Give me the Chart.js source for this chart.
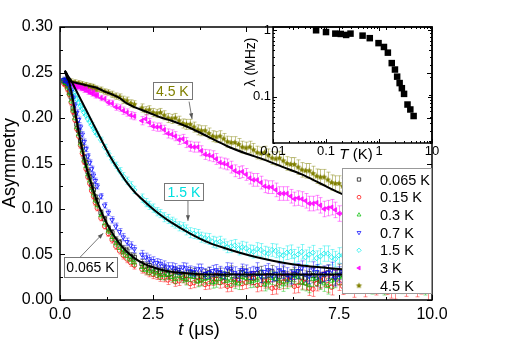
<!DOCTYPE html>
<html>
<head>
<meta charset="utf-8">
<script src="https://cdn.jsdelivr.net/npm/chart.js@4.4.0/dist/chart.umd.min.js"></script>
<style>
html, body { margin: 0; padding: 0; background: #fff; }
#wrap { position: relative; width: 509px; height: 345px; }
#main { position: absolute; left: 0; top: 0; }
#inset { position: absolute; left: 240px; top: 0; }
</style>
</head>
<body>
<div id="wrap">
<canvas id="main" width="509" height="345"></canvas>
<canvas id="inset" width="220" height="170"></canvas>
</div>
<script>
// time bins (μs), shared by all temperatures
const times = [0.10,0.15,0.20,0.25,0.30,0.35,0.40,0.45,0.50,0.55,0.60,0.65,0.70,0.75,0.80,0.85,0.90,0.95,1.00,
    1.1,1.2,1.3,1.4,1.5,1.6,1.7,1.8,1.9,2.0,
    2.2,2.3,2.4,2.5,2.6,2.7,2.8,2.9,3.0,3.1,3.2,3.3,3.4,3.5,3.6,3.7,3.8,3.9,4.0,4.1,4.2,4.3,4.4,4.5,4.6,4.7,4.8,4.9,5.0,5.1,
    5.2,5.3,5.4,5.5,5.6,5.7,5.8,5.9,6.0,6.1,6.2,6.3,6.4,6.5,6.6,6.7,6.8,6.9,7.0,7.1,7.2,7.3,7.4,7.5,7.6,7.7,7.8,7.9,8.0,8.1,
    8.2,8.3,8.4,8.5,8.6,8.7,8.8,8.9,9.0,9.1,9.2,9.3,9.4,9.5,9.6,9.7,9.8,9.9];

// asymmetry for each temperature
const a065 = [0.241,0.239,0.237,0.229,0.223,0.211,0.204,0.193,0.186,0.175,0.168,0.157,0.151,0.141,0.135,0.126,0.121,0.113,0.109,
    0.096,0.089,0.079,0.074,0.066,0.063,0.056,0.054,0.048,0.047,
    0.040,0.037,0.038,0.034,0.033,0.031,0.033,0.028,0.029,0.031,0.030,0.026,0.027,0.030,0.029,0.025,0.026,0.028,0.030,0.024,
    0.027,0.029,0.025,0.028,0.031,0.023,0.026,0.030,0.028,0.025,0.024,0.029,0.030,0.022,0.027,0.031,0.023,0.026,0.029,0.024,
    0.026,0.028,0.031,0.025,0.024,0.029,0.027,0.023,0.022,0.028,0.030,0.025,0.026,0.031,0.028,0.024,0.021,0.027,0.029,0.023,
    0.025,0.030,0.031,0.026,0.023,0.028,0.027,0.022,0.024,0.029,0.030,0.025,0.022,0.028,0.028,0.024,0.025,0.029];
const a015 = [0.238,0.236,0.232,0.226,0.217,0.207,0.198,0.188,0.180,0.170,0.161,0.152,0.144,0.135,0.128,0.120,0.114,0.107,0.101,
    0.090,0.081,0.073,0.066,0.059,0.054,0.049,0.045,0.041,0.038,
    0.034,0.032,0.030,0.028,0.027,0.025,0.025,0.022,0.024,0.020,0.021,0.024,0.023,0.018,0.019,0.021,0.022,0.017,0.018,0.022,
    0.023,0.019,0.020,0.015,0.016,0.021,0.022,0.018,0.019,0.023,0.024,0.016,0.017,0.020,0.021,0.013,0.014,0.019,0.020,0.022,
    0.023,0.015,0.016,0.020,0.019,0.013,0.012,0.018,0.021,0.023,0.017,0.014,0.024,0.019,0.015,0.021,0.019,0.012,0.022,0.017,
    0.013,0.020,0.018,0.015,0.021,0.022,0.016,0.012,0.011,0.018,0.019,0.014,0.023,0.020,0.014,0.017,0.018,0.010];
const a03 = [0.240,0.238,0.234,0.227,0.219,0.209,0.200,0.190,0.182,0.172,0.164,0.154,0.147,0.138,0.131,0.123,0.117,0.110,0.104,
    0.093,0.084,0.076,0.069,0.062,0.057,0.052,0.048,0.044,0.041,
    0.036,0.033,0.032,0.031,0.029,0.027,0.027,0.028,0.025,0.023,0.026,0.024,0.022,0.026,0.025,0.020,0.021,0.023,0.024,0.019,
    0.020,0.023,0.025,0.021,0.022,0.019,0.018,0.025,0.024,0.020,0.021,0.022,0.026,0.017,0.019,0.024,0.023,0.021,0.017,0.020,
    0.022,0.026,0.025,0.019,0.018,0.016,0.023,0.024,0.020,0.018,0.015,0.021,0.022,0.025,0.026,0.017,0.018,0.020,0.021,0.023,
    0.024,0.019,0.016,0.022,0.022,0.015,0.019,0.024,0.025,0.020,0.017,0.018,0.021,0.023,0.024,0.019,0.016,0.021];
const a07 = [0.242,0.241,0.239,0.235,0.229,0.222,0.214,0.206,0.198,0.190,0.182,0.174,0.166,0.158,0.151,0.144,0.137,0.131,0.125,
    0.114,0.104,0.096,0.088,0.081,0.075,0.069,0.064,0.060,0.056,
    0.050,0.047,0.045,0.043,0.041,0.040,0.038,0.036,0.036,0.035,0.033,0.036,0.035,0.032,0.031,0.034,0.034,0.029,0.030,0.032,
    0.033,0.031,0.029,0.035,0.034,0.030,0.028,0.033,0.032,0.029,0.030,0.034,0.026,0.031,0.033,0.027,0.029,0.033,0.031,0.028,
    0.025,0.030,0.032,0.035,0.028,0.026,0.034,0.031,0.027,0.029,0.030,0.033,0.024,0.028,0.031,0.026,0.028,0.032,0.033,0.029,
    0.026,0.024,0.030,0.033,0.027,0.029,0.032,0.028,0.025,0.031,0.029,0.034,0.031,0.027,0.026,0.030,0.030,0.028];
const a15 = [0.241,0.239,0.237,0.234,0.231,0.228,0.224,0.221,0.217,0.213,0.210,0.206,0.203,0.199,0.196,0.192,0.189,0.185,0.182,
    0.176,0.168,0.161,0.154,0.148,0.142,0.136,0.131,0.126,0.121,
    0.112,0.107,0.104,0.101,0.097,0.095,0.091,0.089,0.086,0.084,0.081,0.080,0.077,0.074,0.073,0.072,0.069,0.068,0.067,0.064,
    0.063,0.064,0.061,0.058,0.059,0.060,0.056,0.058,0.057,0.054,0.053,0.056,0.055,0.052,0.051,0.055,0.054,0.050,0.049,0.052,
    0.053,0.048,0.050,0.053,0.047,0.050,0.052,0.046,0.048,0.051,0.051,0.047,0.045,0.049,0.049,0.044,0.046,0.048,0.050,0.045,
    0.044,0.048,0.047,0.042,0.043,0.046,0.046,0.043,0.041,0.044,0.045,0.041,0.040,0.044,0.043,0.038,0.039,0.042];
const a3 = [0.239,0.238,0.239,0.236,0.237,0.235,0.236,0.234,0.235,0.233,0.233,0.231,0.232,0.229,0.229,0.227,0.228,0.225,0.225,
    0.222,0.221,0.217,0.216,0.212,0.211,0.208,0.206,0.203,0.202,
    0.197,0.199,0.195,0.191,0.190,0.190,0.187,0.183,0.182,0.180,0.176,0.177,0.173,0.169,0.168,0.168,0.164,0.160,0.159,0.158,
    0.155,0.151,0.150,0.149,0.146,0.142,0.140,0.141,0.138,0.134,0.132,0.132,0.129,0.125,0.124,0.124,0.121,0.117,0.117,0.117,
    0.114,0.111,0.112,0.111,0.109,0.106,0.106,0.107,0.104,0.100,0.101,0.102,0.099,0.095,0.095,0.096,0.094,0.090,0.089,0.091,
    0.088,0.084,0.083,0.085,0.082,0.078,0.078,0.080,0.077,0.073,0.072,0.074,0.071,0.067,0.066,0.068,0.065,0.062];
const a45 = [0.241,0.240,0.241,0.239,0.240,0.238,0.239,0.237,0.238,0.236,0.237,0.235,0.236,0.234,0.235,0.233,0.234,0.232,0.232,
    0.231,0.229,0.228,0.226,0.224,0.223,0.220,0.219,0.216,0.215,
    0.211,0.208,0.209,0.206,0.205,0.206,0.203,0.200,0.199,0.200,0.197,0.194,0.193,0.193,0.190,0.187,0.186,0.186,0.183,0.180,
    0.179,0.180,0.177,0.174,0.173,0.173,0.171,0.168,0.167,0.168,0.165,0.162,0.161,0.162,0.159,0.156,0.155,0.156,0.153,0.150,
    0.149,0.149,0.146,0.143,0.142,0.142,0.139,0.136,0.135,0.135,0.132,0.129,0.128,0.128,0.125,0.122,0.121,0.121,0.119,0.115,
    0.114,0.114,0.112,0.108,0.107,0.107,0.105,0.101,0.100,0.100,0.097,0.094,0.093,0.093,0.090,0.087,0.086,0.084];

// error bar half-heights per time bin
const errors = [0.003,0.003,0.003,0.003,0.003,0.003,0.003,0.003,0.003,0.003,0.003,0.003,0.003,0.003,0.003,0.003,0.003,0.003,0.003,
    0.003,0.003,0.003,0.0035,0.0035,0.0035,0.004,0.004,0.004,0.004,
    0.0045,0.0045,0.0045,0.0045,0.0045,0.0045,0.005,0.005,0.005,0.005,0.005,0.005,0.0055,0.0055,0.0055,0.0055,0.0055,0.0055,0.006,0.006,
    0.006,0.006,0.006,0.006,0.0065,0.0065,0.0065,0.0065,0.0065,0.0065,0.007,0.007,0.007,0.007,0.007,0.007,0.0075,0.0075,0.0075,0.0075,
    0.0075,0.0075,0.008,0.008,0.008,0.008,0.008,0.008,0.0085,0.0085,0.0085,0.0085,0.0085,0.0085,0.009,0.009,0.009,0.009,0.009,0.009,
    0.0095,0.0095,0.0095,0.0095,0.0095,0.0095,0.01,0.01,0.01,0.01,0.01,0.01,0.0105,0.0105,0.0105,0.0105,0.0105,0.0105];

// fit curves
const fitT = [0.13,0.2,0.3,0.4,0.5,0.6,0.7,0.8,0.9,1.0,1.2,1.4,1.6,1.8,2.0,2.25,2.5,2.75,3.0,3.5,4.0,4.5,5.0,5.5,6.0,6.5,7.0,7.5,8.0,8.5,9.0,9.5,10.0];
const fit065 = [0.252,0.247,0.230,0.208,0.185,0.165,0.147,0.133,0.120,0.108,0.089,0.074,0.062,0.053,0.046,0.040,0.036,0.033,0.031,0.029,0.028,0.028,0.028,0.028,0.028,0.028,0.028,0.028,0.028,0.028,0.028,0.028,0.028];
const fit15 = [0.252,0.247,0.241,0.233,0.225,0.217,0.209,0.201,0.193,0.185,0.169,0.154,0.141,0.129,0.119,0.109,0.100,0.092,0.085,0.073,0.063,0.056,0.050,0.045,0.041,0.038,0.036,0.034,0.032,0.031,0.030,0.029,0.029];
const fit45 = [0.252,0.243,0.240,0.239,0.238,0.237,0.236,0.235,0.234,0.233,0.229,0.226,0.222,0.216,0.212,0.208,0.204,0.200,0.197,0.189,0.179,0.169,0.161,0.154,0.146,0.138,0.128,0.118,0.110,0.102,0.095,0.088,0.082];

// inset: relaxation rate vs temperature
const lambdaT = [0.065,0.1,0.15,0.19,0.24,0.29,0.49,0.67,0.98,1.24,1.47,1.74,2.0,2.2,2.45,2.7,2.97,3.45,3.9,4.5];
const lambdaVals = [1.0,0.94,0.89,0.88,0.85,0.89,0.83,0.76,0.64,0.56,0.46,0.32,0.256,0.20,0.16,0.134,0.11,0.076,0.064,0.051];

// axis ticks
const mainXTicks = [0, 2.5, 5, 7.5, 10];
const mainXMinor = [1.25, 3.75, 6.25, 8.75];
const mainYTicks = [0, 0.05, 0.10, 0.15, 0.20, 0.25, 0.30];
const mainYMinor = [0.025, 0.075, 0.125, 0.175, 0.225, 0.275];
const insetXTicks = [0.01, 0.1, 1, 10];
const insetYTicks = [0.1, 1];

const FONT = '"Liberation Sans", Arial, sans-serif';

function makeStar(color, r) {
    const c = document.createElement('canvas');
    c.width = c.height = Math.ceil(r * 2) + 2;
    const g = c.getContext('2d');
    g.fillStyle = color;
    g.beginPath();
    for (let i = 0; i < 10; i++) {
        const ang = -Math.PI / 2 + i * Math.PI / 5;
        const rr = i % 2 ? r * 0.5 : r;
        g.lineTo(c.width / 2 + rr * Math.cos(ang), c.height / 2 + rr * Math.sin(ang));
    }
    g.closePath();
    g.fill();
    return c;
}

const series = [
    { label: '0.065 K', values: a065, rgb: '0,0,0', style: 'rect', radius: 2.8, rot: 0, filled: false, order: 4 },
    { label: '0.15 K', values: a015, rgb: '255,0,0', style: 'circle', radius: 2.2, rot: 0, filled: false, order: 3 },
    { label: '0.3 K', values: a03, rgb: '0,190,0', style: 'triangle', radius: 2.6, rot: 0, filled: false, order: 2 },
    { label: '0.7 K', values: a07, rgb: '0,0,255', style: 'triangle', radius: 2.6, rot: 180, filled: false, order: 1 },
    { label: '1.5 K', values: a15, rgb: '0,235,235', style: 'rectRot', radius: 2.6, rot: 0, filled: false, order: 5 },
    { label: '3 K', values: a3, rgb: '255,0,255', style: 'triangle', radius: 2.6, rot: -90, filled: true, order: 6 },
    { label: '4.5 K', values: a45, rgb: '128,128,0', style: makeStar('rgb(128,128,0)', 3.2), radius: 3.2, rot: 0, filled: true, order: 7 }
];

const datasets = series.map(s => ({
    label: s.label,
    data: times.map((t, i) => ({ x: t, y: s.values[i] })),
    errors: errors,
    errColor: 'rgba(' + s.rgb + ',0.45)',
    pointStyle: s.style,
    pointRadius: s.radius,
    pointRotation: s.rot,
    pointBorderWidth: 0.9,
    borderColor: 'rgba(' + s.rgb + ',0.85)',
    backgroundColor: s.filled ? 'rgba(' + s.rgb + ',0.85)' : 'rgba(0,0,0,0)',
    showLine: false,
    order: s.order
}));

[fit065, fit15, fit45].forEach(f => {
    datasets.push({
        data: fitT.map((t, i) => ({ x: t, y: f[i] })),
        showLine: true,
        borderColor: '#000',
        borderWidth: 2,
        pointRadius: 0,
        cubicInterpolationMode: 'monotone',
        fill: false,
        order: 0
    });
});

// error bars drawn under each dataset's markers
const errorBarPlugin = {
    id: 'errorBars',
    beforeDatasetDraw(chart, args) {
        const ds = chart.data.datasets[args.index];
        if (!ds.errors) return;
        const { ctx, chartArea: a, scales: { y } } = chart;
        ctx.save();
        ctx.beginPath();
        ctx.rect(a.left, a.top, a.right - a.left, a.bottom - a.top);
        ctx.clip();
        ctx.strokeStyle = ds.errColor;
        ctx.lineWidth = 1;
        ctx.beginPath();
        args.meta.data.forEach((pt, i) => {
            const v = ds.data[i].y, e = ds.errors[i];
            const y1 = y.getPixelForValue(v - e), y2 = y.getPixelForValue(v + e);
            const px = Math.round(pt.x) + 0.5;
            ctx.moveTo(px, y1); ctx.lineTo(px, y2);
            ctx.moveTo(px - 2, y1); ctx.lineTo(px + 2, y1);
            ctx.moveTo(px - 2, y2); ctx.lineTo(px + 2, y2);
        });
        ctx.stroke();
        ctx.restore();
    }
};

function drawFrame(chart, xMaj, xMin, yMaj, yMin, majLen, minLen) {
    const { ctx, chartArea: a, scales: { x, y } } = chart;
    ctx.save();
    ctx.strokeStyle = '#000';
    ctx.lineWidth = 1;
    ctx.beginPath();
    const xt = (vals, len) => vals.forEach(v => {
        const px = Math.round(x.getPixelForValue(v)) + 0.5;
        ctx.moveTo(px, a.bottom); ctx.lineTo(px, a.bottom - len);
        ctx.moveTo(px, a.top); ctx.lineTo(px, a.top + len);
    });
    const yt = (vals, len) => vals.forEach(v => {
        const py = Math.round(y.getPixelForValue(v)) + 0.5;
        ctx.moveTo(a.left, py); ctx.lineTo(a.left + len, py);
        ctx.moveTo(a.right, py); ctx.lineTo(a.right - len, py);
    });
    xt(xMaj, majLen); xt(xMin, minLen);
    yt(yMaj, majLen); yt(yMin, minLen);
    ctx.stroke();
    ctx.lineWidth = 1.5;
    ctx.strokeRect(a.left, a.top, a.right - a.left, a.bottom - a.top);
    ctx.restore();
}

function mixedText(ctx, parts, cx, cy, size, rotate) {
    ctx.save();
    ctx.translate(cx, cy);
    if (rotate) ctx.rotate(-Math.PI / 2);
    let total = 0;
    parts.forEach(p => {
        ctx.font = (p[1] ? 'italic ' : '') + size + 'px ' + FONT;
        total += ctx.measureText(p[0]).width;
    });
    let xx = -total / 2;
    ctx.textAlign = 'left';
    ctx.textBaseline = 'middle';
    ctx.fillStyle = '#000';
    parts.forEach(p => {
        ctx.font = (p[1] ? 'italic ' : '') + size + 'px ' + FONT;
        ctx.fillText(p[0], xx, 0);
        xx += ctx.measureText(p[0]).width;
    });
    ctx.restore();
}

function arrow(ctx, x1, y1, x2, y2) {
    const ang = Math.atan2(y2 - y1, x2 - x1);
    ctx.beginPath();
    ctx.moveTo(x1, y1);
    ctx.lineTo(x2, y2);
    ctx.stroke();
    ctx.beginPath();
    ctx.moveTo(x2, y2);
    ctx.lineTo(x2 - 6 * Math.cos(ang - 0.35), y2 - 6 * Math.sin(ang - 0.35));
    ctx.lineTo(x2 - 6 * Math.cos(ang + 0.35), y2 - 6 * Math.sin(ang + 0.35));
    ctx.closePath();
    ctx.fill();
}

// labelled boxes pointing at curves (data coordinates)
const callouts = [
    { text: '4.5 K', color: '#808000', t: 3.02, a: 0.230, w: 39, h: 17, from: [3.47, 0.218], to: [3.55, 0.199] },
    { text: '1.5 K', color: '#00e0e0', t: 3.33, a: 0.1188, w: 39, h: 17, from: [3.44, 0.109], to: [3.44, 0.087] },
    { text: '0.065 K', color: '#000', t: 0.82, a: 0.0361, w: 53, h: 20, from: [0.54, 0.047], to: [1.16, 0.0734] }
];

const mainDecor = {
    id: 'mainDecor',
    afterDraw(chart) {
        const { ctx, scales: { x, y } } = chart;
        drawFrame(chart, mainXTicks, mainXMinor, mainYTicks, mainYMinor, 5, 3);

        // callouts
        callouts.forEach(c => {
            const cx = x.getPixelForValue(c.t), cy = y.getPixelForValue(c.a);
            ctx.save();
            ctx.strokeStyle = '#555';
            ctx.fillStyle = '#555';
            ctx.lineWidth = 0.8;
            arrow(ctx, x.getPixelForValue(c.from[0]), y.getPixelForValue(c.from[1]),
                x.getPixelForValue(c.to[0]), y.getPixelForValue(c.to[1]));
            ctx.fillStyle = '#fff';
            ctx.strokeStyle = '#777';
            ctx.lineWidth = 1;
            ctx.fillRect(cx - c.w / 2, cy - c.h / 2, c.w, c.h);
            ctx.strokeRect(Math.round(cx - c.w / 2) + 0.5, Math.round(cy - c.h / 2) + 0.5, c.w, c.h);
            ctx.fillStyle = c.color;
            ctx.font = '14px ' + FONT;
            ctx.textAlign = 'center';
            ctx.textBaseline = 'middle';
            ctx.fillText(c.text, cx, cy + 1);
            ctx.restore();
        });

        // legend
        ctx.save();
        ctx.fillStyle = '#fff';
        ctx.fillRect(342, 168, 90, 125);
        ctx.strokeStyle = '#999';
        ctx.lineWidth = 1;
        ctx.strokeRect(342.5, 168.5, 89, 125);
        series.forEach((s, i) => {
            const ly = 179.5 + i * 17.7;
            ctx.strokeStyle = 'rgba(' + s.rgb + ',0.8)';
            ctx.fillStyle = s.filled ? 'rgba(' + s.rgb + ',0.85)' : 'rgba(0,0,0,0)';
            ctx.lineWidth = 0.9;
            Chart.helpers.drawPoint(ctx, { pointStyle: s.style, rotation: s.rot, radius: s.radius * 0.85, borderWidth: 0.9 }, 359, ly);
            ctx.fillStyle = '#000';
            ctx.font = '14.5px ' + FONT;
            ctx.textAlign = 'left';
            ctx.textBaseline = 'middle';
            ctx.fillText(s.label, 380, ly + 1);
        });
        ctx.restore();

        // axis titles
        mixedText(ctx, [['Asymmetry', false]], 10, 163, 18, true);
        mixedText(ctx, [['t', true], [' (\u03bcs)', false]], 199, 330, 18, false);
    }
};

new Chart(document.getElementById('main'), {
    type: 'scatter',
    data: { datasets: datasets },
    options: {
        responsive: false,
        animation: false,
        layout: { padding: { left: 0, right: 77, top: 27, bottom: 0 } },
        plugins: { legend: { display: false }, tooltip: { enabled: false } },
        scales: {
            x: {
                type: 'linear', min: 0, max: 10,
                afterFit(s) { s.height = 45; },
                afterBuildTicks(s) { s.ticks = mainXTicks.map(v => ({ value: v })); },
                grid: { display: false, drawTicks: false },
                border: { display: false },
                ticks: { autoSkip: false, maxRotation: 0, padding: 5, color: '#000', font: { family: FONT, size: 16 }, callback: v => v.toFixed(1) }
            },
            y: {
                type: 'linear', min: 0, max: 0.3,
                afterFit(s) { s.width = 60; },
                afterBuildTicks(s) { s.ticks = mainYTicks.map(v => ({ value: v })); },
                grid: { display: false, drawTicks: false },
                border: { display: false },
                ticks: { autoSkip: false, padding: 7, color: '#000', font: { family: FONT, size: 16 }, callback: v => v.toFixed(2) }
            }
        }
    },
    plugins: [errorBarPlugin, mainDecor]
});

// inset
const minorLog = [];
[0.01, 0.1, 1].forEach(d => { for (let k = 2; k <= 9; k++) minorLog.push(d * k); });

const insetDecor = {
    id: 'insetDecor',
    afterDraw(chart) {
        const { ctx } = chart;
        drawFrame(chart, insetXTicks, minorLog, insetYTicks, minorLog.filter(v => v >= 0.02 && v <= 1.12), 4, 2);
        mixedText(ctx, [['T', true], [' (K)', false]], 116, 155, 15, false);
        mixedText(ctx, [['\u03bb (MHz)', false]], 11, 62, 14, true);
    }
};

new Chart(document.getElementById('inset'), {
    type: 'scatter',
    data: {
        datasets: [{
            data: lambdaT.map((t, i) => ({ x: t, y: lambdaVals[i] })),
            pointStyle: 'rect',
            pointRadius: 4.6,
            pointBorderWidth: 0,
            backgroundColor: '#000',
            borderColor: '#000',
            clip: false
        }]
    },
    options: {
        responsive: false,
        animation: false,
        layout: { padding: { left: 0, right: 28, top: 27, bottom: 0 } },
        plugins: { legend: { display: false }, tooltip: { enabled: false } },
        scales: {
            x: {
                type: 'logarithmic', min: 0.01, max: 10,
                afterFit(s) { s.height = 27; },
                afterBuildTicks(s) { s.ticks = insetXTicks.map(v => ({ value: v })); },
                grid: { display: false, drawTicks: false },
                border: { display: false },
                ticks: { autoSkip: false, maxRotation: 0, padding: 1, color: '#000', font: { family: FONT, size: 13 }, callback: v => String(v) }
            },
            y: {
                type: 'logarithmic', min: 0.02, max: 1.12,
                afterFit(s) { s.width = 33; },
                afterBuildTicks(s) { s.ticks = insetYTicks.map(v => ({ value: v })); },
                grid: { display: false, drawTicks: false },
                border: { display: false },
                ticks: { autoSkip: false, padding: 2, color: '#000', font: { family: FONT, size: 13 }, callback: v => String(v) }
            }
        }
    },
    plugins: [insetDecor]
});
</script>
</body>
</html>
